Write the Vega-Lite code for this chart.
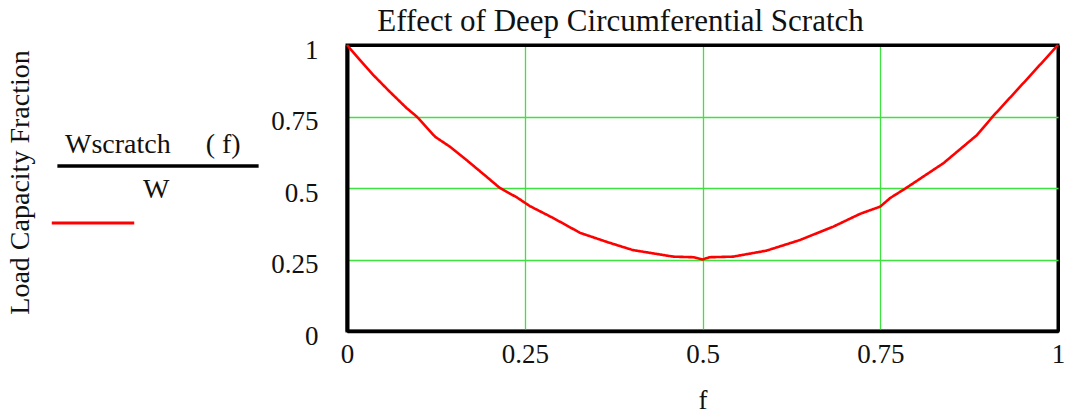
{
  "$schema": "https://vega.github.io/schema/vega-lite/v6.json",
  "autosize": "none",
  "width": 711,
  "height": 286,
  "padding": {"left": 347, "top": 45, "right": 19, "bottom": 89},
  "background": "white",
  "title": {
    "text": "Effect of Deep Circumferential Scratch",
    "font": "Liberation Serif",
    "fontSize": 31,
    "fontWeight": "normal",
    "color": "#111111",
    "anchor": "middle",
    "offset": -2,
    "dx": -82
  },
  "config": {
    "view": {"stroke": "black", "strokeWidth": 3},
    "axis": {
      "labelFont": "Liberation Serif",
      "titleFont": "Liberation Serif",
      "labelFontSize": 27,
      "titleFontSize": 27,
      "titleFontWeight": "normal",
      "labelColor": "#111111",
      "titleColor": "#111111",
      "gridColor": {"condition": {"test": "datum.value == 0 || datum.value == 1", "value": "black"}, "value": "#3ee23e"},
      "gridWidth": {"condition": {"test": "datum.value == 0 || datum.value == 1", "value": 3}, "value": 1.3},
      "gridOpacity": 1,
      "tickSize": 0,
      "domainColor": "black",
      "labelFlush": false,
      "labelOverlap": false,
      "labelExpr": "'' + datum.value"
    },
    "legend": {
      "titleFont": "Liberation Serif",
      "titleFontSize": 28,
      "titleFontWeight": "normal",
      "titleColor": "#111111",
      "labelFontSize": 1,
      "padding": 0
    }
  },
  "data": {
    "values": [
      {"f": 0.0, "v": 1.0, "series": "curve"},
      {"f": 0.018, "v": 0.948, "series": "curve"},
      {"f": 0.037, "v": 0.895, "series": "curve"},
      {"f": 0.06, "v": 0.837, "series": "curve"},
      {"f": 0.084, "v": 0.779, "series": "curve"},
      {"f": 0.098, "v": 0.75, "series": "curve"},
      {"f": 0.124, "v": 0.679, "series": "curve"},
      {"f": 0.145, "v": 0.644, "series": "curve"},
      {"f": 0.168, "v": 0.598, "series": "curve"},
      {"f": 0.196, "v": 0.54, "series": "curve"},
      {"f": 0.215, "v": 0.5, "series": "curve"},
      {"f": 0.239, "v": 0.467, "series": "curve"},
      {"f": 0.257, "v": 0.437, "series": "curve"},
      {"f": 0.29, "v": 0.395, "series": "curve"},
      {"f": 0.328, "v": 0.343, "series": "curve"},
      {"f": 0.366, "v": 0.311, "series": "curve"},
      {"f": 0.402, "v": 0.283, "series": "curve"},
      {"f": 0.459, "v": 0.26, "series": "curve"},
      {"f": 0.487, "v": 0.258, "series": "curve"},
      {"f": 0.5, "v": 0.25, "series": "curve"},
      {"f": 0.51, "v": 0.258, "series": "curve"},
      {"f": 0.543, "v": 0.26, "series": "curve"},
      {"f": 0.59, "v": 0.281, "series": "curve"},
      {"f": 0.637, "v": 0.318, "series": "curve"},
      {"f": 0.684, "v": 0.365, "series": "curve"},
      {"f": 0.722, "v": 0.41, "series": "curve"},
      {"f": 0.75, "v": 0.435, "series": "curve"},
      {"f": 0.764, "v": 0.465, "series": "curve"},
      {"f": 0.787, "v": 0.501, "series": "curve"},
      {"f": 0.839, "v": 0.587, "series": "curve"},
      {"f": 0.886, "v": 0.685, "series": "curve"},
      {"f": 0.909, "v": 0.752, "series": "curve"},
      {"f": 0.951, "v": 0.866, "series": "curve"},
      {"f": 1.0, "v": 1.0, "series": "curve"}
    ]
  },
  "mark": {"type": "line", "strokeWidth": 2.6, "interpolate": "linear"},
  "encoding": {
    "x": {
      "field": "f",
      "type": "quantitative",
      "scale": {"domain": [0, 1], "nice": false, "zero": false},
      "axis": {
        "title": "f",
        "values": [0, 0.25, 0.5, 0.75, 1],
        "domainWidth": 3.5,
        "labelPadding": 10,
        "titlePadding": 20
      }
    },
    "y": {
      "field": "v",
      "type": "quantitative",
      "scale": {"domain": [0, 1], "nice": false, "zero": false},
      "axis": {
        "title": "Load Capacity Fraction",
        "titleFontSize": 28,
        "values": [0, 0.25, 0.5, 0.75, 1],
        "domainWidth": 4,
        "labelPadding": 29,
        "labelOffset": 5,
        "titlePadding": 236,
        "titleY": 137
      }
    },
    "color": {
      "field": "series",
      "type": "nominal",
      "scale": {"domain": ["bar", "curve"], "range": ["black", "#ff0000"]},
      "legend": {
        "orient": "none",
        "legendX": -282,
        "legendY": 86,
        "title": "Wscratch\u00a0\u00a0\u00a0\u00a0\u00a0(\u00a0f)",
        "titleAnchor": "start",
        "titlePadding": 3,
        "values": ["bar"],
        "labelExpr": "''",
        "symbolType": "M-50,0H50",
        "symbolSize": 16.2,
        "symbolStrokeWidth": 3.5,
        "symbolOffset": 89
      }
    },
    "strokeDash": {
      "field": "series",
      "type": "nominal",
      "scale": {"domain": ["curve"], "range": [[1, 0]]},
      "legend": {
        "orient": "none",
        "legendX": -204,
        "legendY": 131,
        "title": "W",
        "titleAnchor": "start",
        "titlePadding": 15,
        "labelExpr": "''",
        "symbolType": "M-20,0H20",
        "symbolSize": 17,
        "symbolStrokeWidth": 3,
        "symbolStrokeColor": "#ff0000",
        "symbolOffset": -54
      }
    }
  }
}
